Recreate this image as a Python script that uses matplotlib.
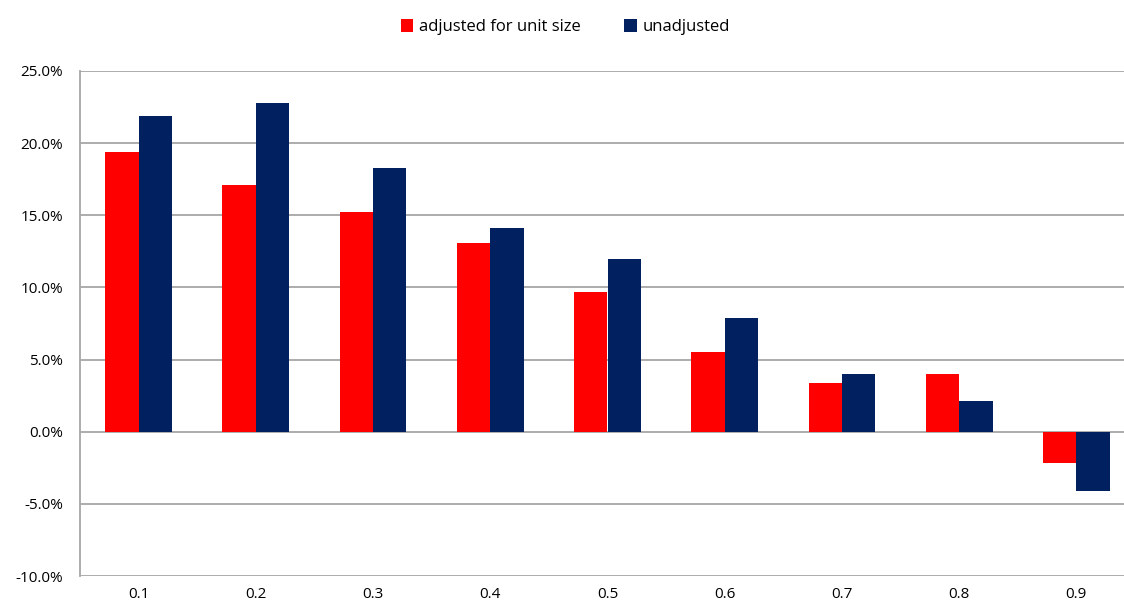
import matplotlib.pyplot as plt
import numpy as np
from matplotlib.ticker import FuncFormatter

plt.rcParams['font.family'] = ['Open Sans', 'DejaVu Sans']

# deciles and returns (%)
categories = ['0.1', '0.2', '0.3', '0.4', '0.5', '0.6', '0.7', '0.8', '0.9']
adjusted = [19.4, 17.1, 15.2, 13.1, 9.7, 5.5, 3.4, 4.0, -2.2]
unadjusted = [21.9, 22.8, 18.3, 14.1, 12.0, 7.9, 4.0, 2.1, -4.1]

fig = plt.figure(figsize=(11.24, 6.08), dpi=100)
ax = fig.add_axes([80/1124, 32/608, 1055/1124, 505/608])

x = np.arange(len(categories))
w = 0.285
ax.bar(x - w/2, adjusted, w, color='#FF0000', label='adjusted for unit size', zorder=3)
ax.bar(x + w/2, unadjusted, w, color='#002060', label='unadjusted', zorder=3)

ax.set_xlim(-0.5, len(categories) - 0.5)
ax.set_ylim(-10, 25)
ax.set_yticks(np.arange(-10, 26, 5))
ax.yaxis.set_major_formatter(FuncFormatter(lambda v, p: f'{v:.1f}%'))
ax.set_xticks(x)
ax.set_xticklabels(categories)
ax.grid(axis='y', color='#A6A6A6', linewidth=1.3, zorder=0)
ax.tick_params(length=0, labelsize=11, colors='#000000', pad=8)
ax.tick_params(axis='y', pad=12)
for s in ['top', 'right', 'bottom']:
    ax.spines[s].set_visible(False)
ax.spines['left'].set_color('#A6A6A6')
ax.spines['left'].set_linewidth(1.3)

fig.legend(loc='upper center', bbox_to_anchor=(0.503, 0.993), ncol=2, frameon=False,
           fontsize=12, handlelength=0.75, handleheight=0.75, handletextpad=0.35,
           columnspacing=2.6)

fig.savefig('out.png', dpi=100)
